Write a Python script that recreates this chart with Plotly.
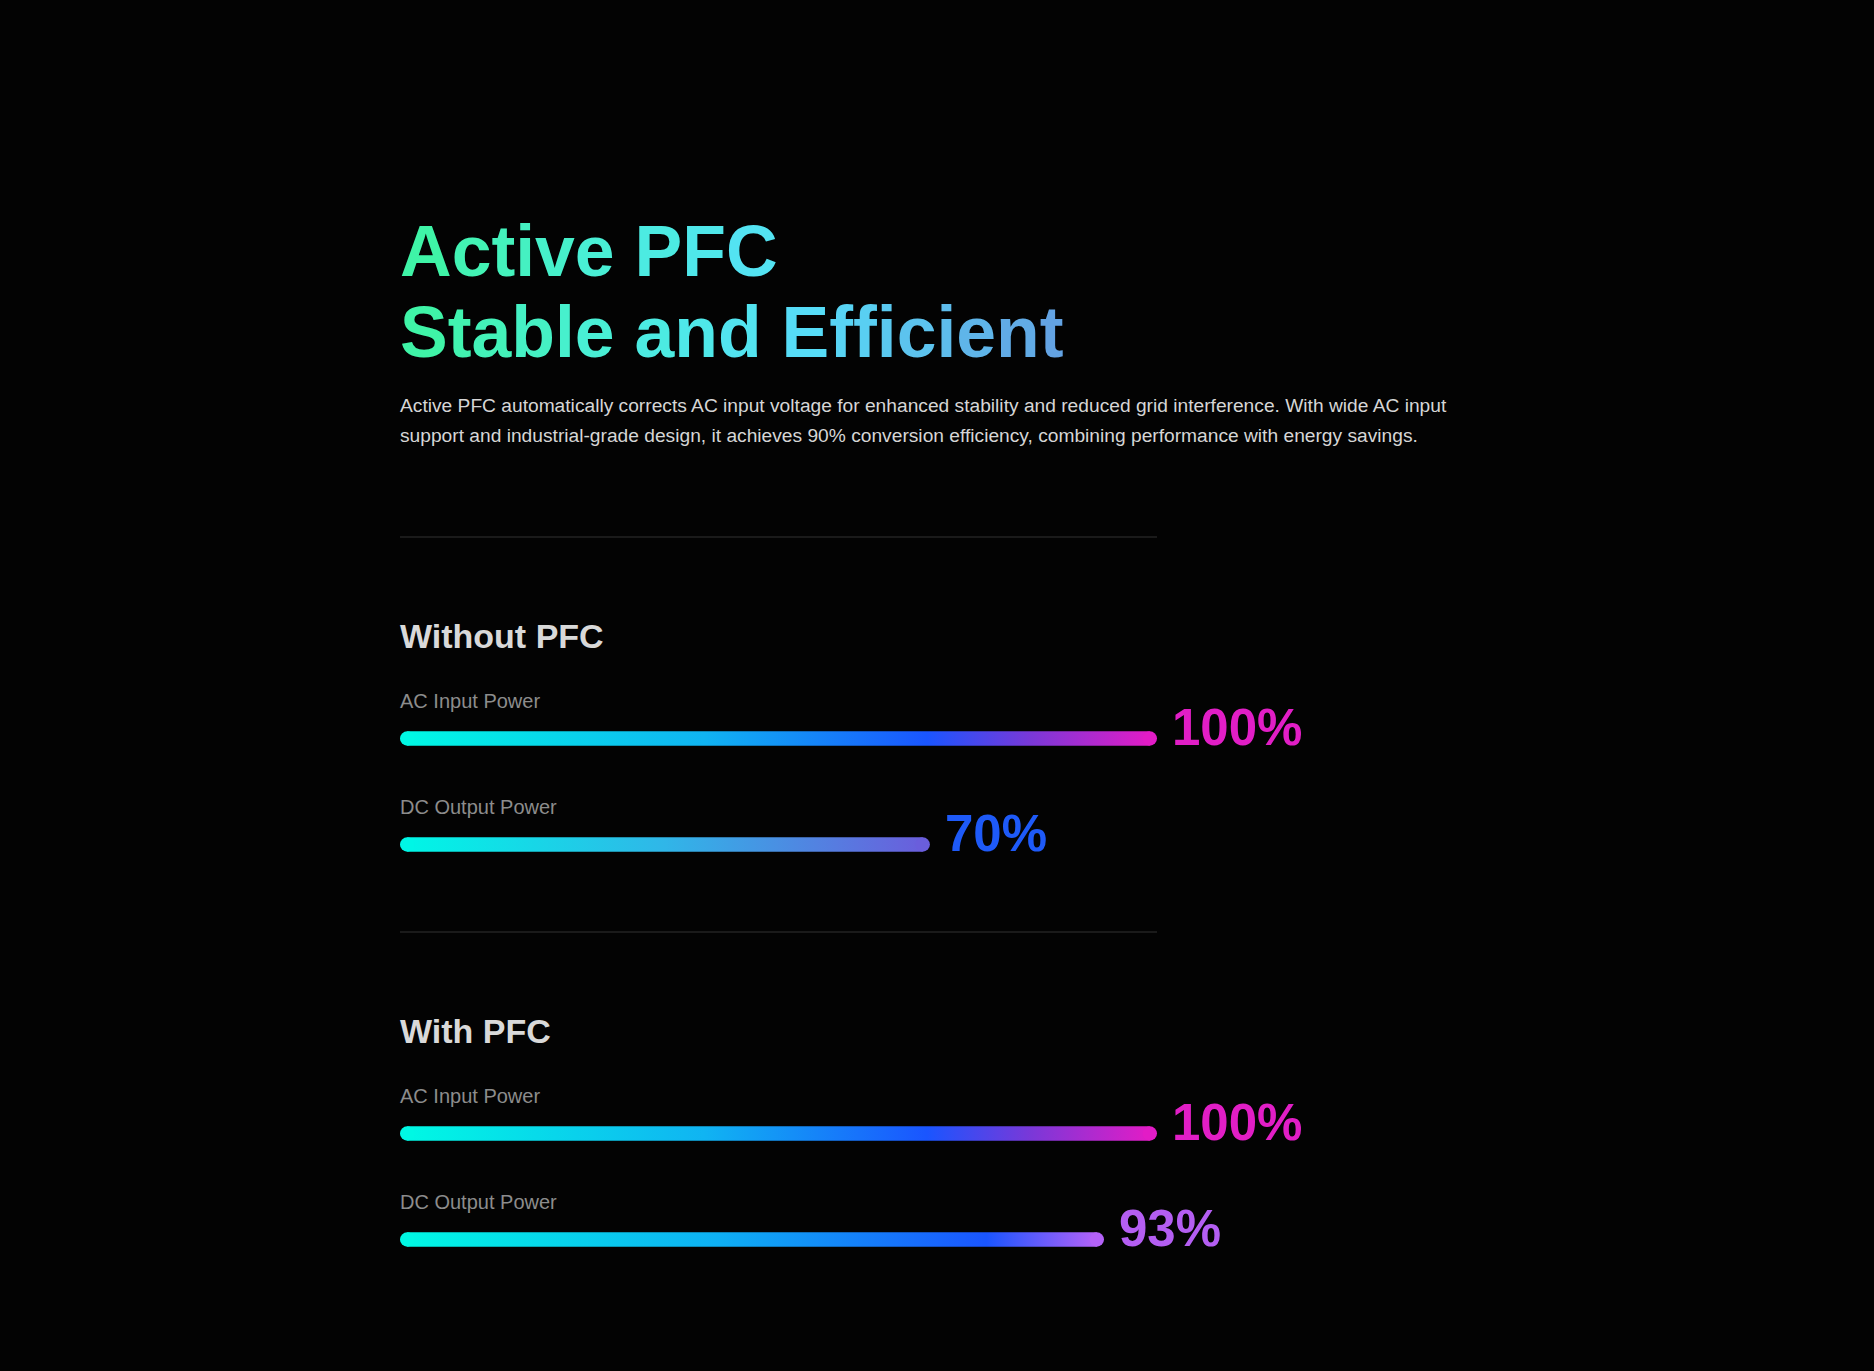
import plotly.graph_objects as go

# data
groups = ["Without PFC", "With PFC"]
metrics = ["AC Input Power", "DC Output Power"]
without_pfc = [100, 70]
with_pfc = [100, 93]
values = [without_pfc, with_pfc]

title_lines = ["Active PFC", "Stable and Efficient"]
body_lines = [
    "Active PFC automatically corrects AC input voltage for enhanced stability and reduced grid interference. With wide AC input",
    "support and industrial-grade design, it achieves 90% conversion efficiency, combining performance with energy savings.",
]

# styles
BG = "#030303"
FONT = "Liberation Sans, Arial, sans-serif"
W, H = 1874, 1371
X0_PX = 400          # left edge of the bars
PX_PER_PCT = 7.57    # bar length per percent
BAR_H = 14.4

grad_full = [[0, "#00f8e4"], [0.4, "#10b4f2"], [0.7, "#1a55ff"], [0.84, "#7a38d8"], [1, "#e21cc6"]]
grad_70 = [[0, "#00f6e6"], [0.5, "#30b6e8"], [1, "#6a5edc"]]
grad_93 = [[0, "#00f8e4"], [0.45, "#0eb0f4"], [0.84, "#1a55ff"], [1, "#b462f8"]]
bar_grads = [[grad_full, grad_70], [grad_full, grad_93]]
pct_colors = [["#e11ec6", "#1e5af8"], ["#e11ec6", "#b45ef2"]]

# vertical layout (pixels from top)
sep_y = [537, 932]
head_dy = 99
label_dy = [164, 270]
bar_dy = [201.5, 307.5]

# title gradient (by x pixel)
title_stops = [(400, (62, 245, 160)), (620, (74, 238, 220)), (790, (85, 224, 248)), (1065, (100, 160, 226))]
bold_w = {"A": 722, "c": 556, "t": 333, "i": 278, "v": 556, "e": 556, " ": 278, "P": 667,
          "F": 611, "C": 722, "S": 667, "a": 556, "b": 611, "l": 278, "n": 611, "d": 611,
          "E": 667, "f": 333}


def title_color(x):
    if x <= title_stops[0][0]:
        return title_stops[0][1]
    for (xa, ca), (xb, cb) in zip(title_stops[:-1], title_stops[1:]):
        if x <= xb:
            t = (x - xa) / (xb - xa)
            return tuple(round(a + (b - a) * t) for a, b in zip(ca, cb))
    return title_stops[-1][1]


def gradient_text(s, size):
    out = ""
    x = X0_PX
    for ch in s:
        w = bold_w.get(ch, 556) * size / 1000
        r, g, b = title_color(x + w / 2)
        out += f"<span style='color:rgb({r},{g},{b})'>{ch}</span>"
        x += w
    return out


fig = go.Figure()
ann = []

# title
for i, line in enumerate(title_lines):
    ann.append(dict(x=0, y=[251, 332][i], text="<b>" + gradient_text(line, 71.5) + "</b>",
                    font=dict(family=FONT, size=71.5), xanchor="left", yanchor="middle", xshift=-2))

# paragraph
for i, line in enumerate(body_lines):
    ann.append(dict(x=0, y=405.5 + 29.5 * i, text=line, font=dict(family=FONT, size=19.2, color="#d6d6d6"),
                    xanchor="left", yanchor="middle", xshift=-2))

shapes = []
r_pct = BAR_H / 2 / PX_PER_PCT
for g, group in enumerate(groups):
    top = sep_y[g]
    shapes.append(dict(type="line", xref="x", yref="y", x0=0, x1=100, y0=top, y1=top,
                       line=dict(color="#333333", width=1)))
    ann.append(dict(x=0, y=top + head_dy, text=f"<b>{group}</b>",
                    font=dict(family=FONT, size=34, color="#d9d9d9"),
                    xanchor="left", yanchor="middle", xshift=-2))
    for m, metric in enumerate(metrics):
        v = values[g][m]
        yc = top + bar_dy[m]
        ann.append(dict(x=0, y=top + label_dy[m], text=metric,
                        font=dict(family=FONT, size=20, color="#8c8c8c"),
                        xanchor="left", yanchor="middle", xshift=-2))
        a, b = r_pct, v - r_pct
        cs = bar_grads[g][m]
        fig.add_trace(go.Scatter(
            x=[a, b, b, a, a], y=[yc - BAR_H / 2, yc - BAR_H / 2, yc + BAR_H / 2, yc + BAR_H / 2, yc - BAR_H / 2],
            mode="lines", line=dict(width=0), fill="toself",
            fillgradient=dict(type="horizontal", colorscale=cs),
            hoverinfo="skip", showlegend=False,
        ))
        fig.add_trace(go.Scatter(
            x=[a, b], y=[yc, yc], mode="markers",
            marker=dict(size=BAR_H, color=[cs[0][1], cs[-1][1]], line=dict(width=0)),
            hoverinfo="skip", showlegend=False,
        ))
        ann.append(dict(x=v, y=yc - 11.5, text=f"<b>{v}%</b>",
                        font=dict(family=FONT, size=51, color=pct_colors[g][m]),
                        xanchor="left", yanchor="middle", xshift=13))

for a_ in ann:
    a_.update(xref="x", yref="y", showarrow=False)

fig.update_layout(
    width=W, height=H,
    margin=dict(l=0, r=0, t=0, b=0),
    paper_bgcolor=BG, plot_bgcolor=BG,
    xaxis=dict(range=[-X0_PX / PX_PER_PCT, (W - X0_PX) / PX_PER_PCT], visible=False, fixedrange=True),
    yaxis=dict(range=[H, 0], visible=False, fixedrange=True),
    annotations=ann, shapes=shapes,
)

fig.write_html(
    "out.html",
    config={"displayModeBar": False},
    post_script="document.body.style.margin='0';document.body.style.background='#030303';",
)
